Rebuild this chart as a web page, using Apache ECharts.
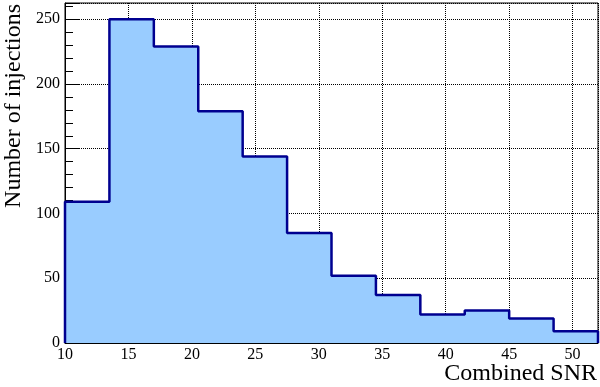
<!DOCTYPE html>
<html>
<head>
<meta charset="utf-8">
<script src="https://cdn.jsdelivr.net/npm/echarts@6/dist/echarts.min.js"></script>
<style>
  html, body { margin: 0; padding: 0; background: #fff; }
  #chart { width: 600px; height: 387px; }
</style>
</head>
<body>
<div id="chart"></div>
<script>
// bin edges (Combined SNR) and counts per bin
const binEdges = [10, 13.5, 17, 20.5, 24, 27.5, 31, 34.5, 38, 41.5, 45, 48.5, 52]
const counts = [109, 250, 229, 179, 144, 85, 52, 37, 22, 25, 19, 9]
const xTicks = [10, 15, 20, 25, 30, 35, 40, 45, 50]
const yTicks = [0, 50, 100, 150, 200, 250]

// histogram outline as step points
const stepData = [[binEdges[0], 0]]
counts.forEach((c, i) => stepData.push([binEdges[i], c]))
stepData.push([binEdges[binEdges.length - 1], counts[counts.length - 1]])
stepData.push([binEdges[binEdges.length - 1], 0])

const serif = 'Liberation Serif'

const chart = echarts.init(document.getElementById('chart'))

chart.setOption({
  animation: false,
  textStyle: { fontFamily: serif },
  grid: {
    left: 65,
    right: 2,
    top: 3,
    bottom: 44,
    show: true,
    borderColor: '#000',
    borderWidth: 1,
    backgroundColor: 'transparent',
  },
  xAxis: {
    type: 'value',
    min: xTicks[0],
    max: binEdges[binEdges.length - 1],
    interval: 5,
    axisLine: { lineStyle: { color: '#000', width: 1 } },
    axisTick: { inside: true, length: 9, lineStyle: { color: '#000' } },
    minorTick: { show: true, splitNumber: 5, length: 5, lineStyle: { color: '#000' } },
    axisLabel: {
      color: '#000',
      fontFamily: serif,
      fontSize: 16,
      margin: 4,
      showMaxLabel: false,
    },
    splitLine: { show: true, lineStyle: { color: '#000', type: 'dotted', width: 1 } },
  },
  yAxis: {
    type: 'value',
    min: yTicks[0],
    max: 262.5,
    interval: 50,
    axisLine: { show: true, lineStyle: { color: '#000', width: 1 } },
    axisTick: { show: true, inside: true, length: 15, lineStyle: { color: '#000' } },
    minorTick: { show: true, splitNumber: 5, length: 8, lineStyle: { color: '#000' } },
    axisLabel: {
      color: '#000',
      fontFamily: serif,
      fontSize: 16,
      margin: 5,
      showMaxLabel: false,
    },
    splitLine: { show: true, lineStyle: { color: '#000', type: 'dotted', width: 1 } },
  },
  graphic: [
    {
      type: 'text',
      right: 3,
      top: 362,
      style: {
        text: 'Combined SNR',
        font: '24px "Liberation Serif"',
        fill: '#000',
      },
    },
    {
      type: 'text',
      x: 14,
      y: 4,
      rotation: Math.PI / 2,
      style: {
        text: 'Number of injections',
        font: '24px "Liberation Serif"',
        fill: '#000',
        textAlign: 'right',
        textVerticalAlign: 'middle',
      },
    },
  ],
  series: [
    {
      type: 'line',
      data: stepData,
      step: 'end',
      showSymbol: false,
      lineStyle: { color: '#000090', width: 2.5 },
      areaStyle: { color: '#99ccff', opacity: 1 },
      z: 3,
    },
  ],
})
</script>
</body>
</html>
